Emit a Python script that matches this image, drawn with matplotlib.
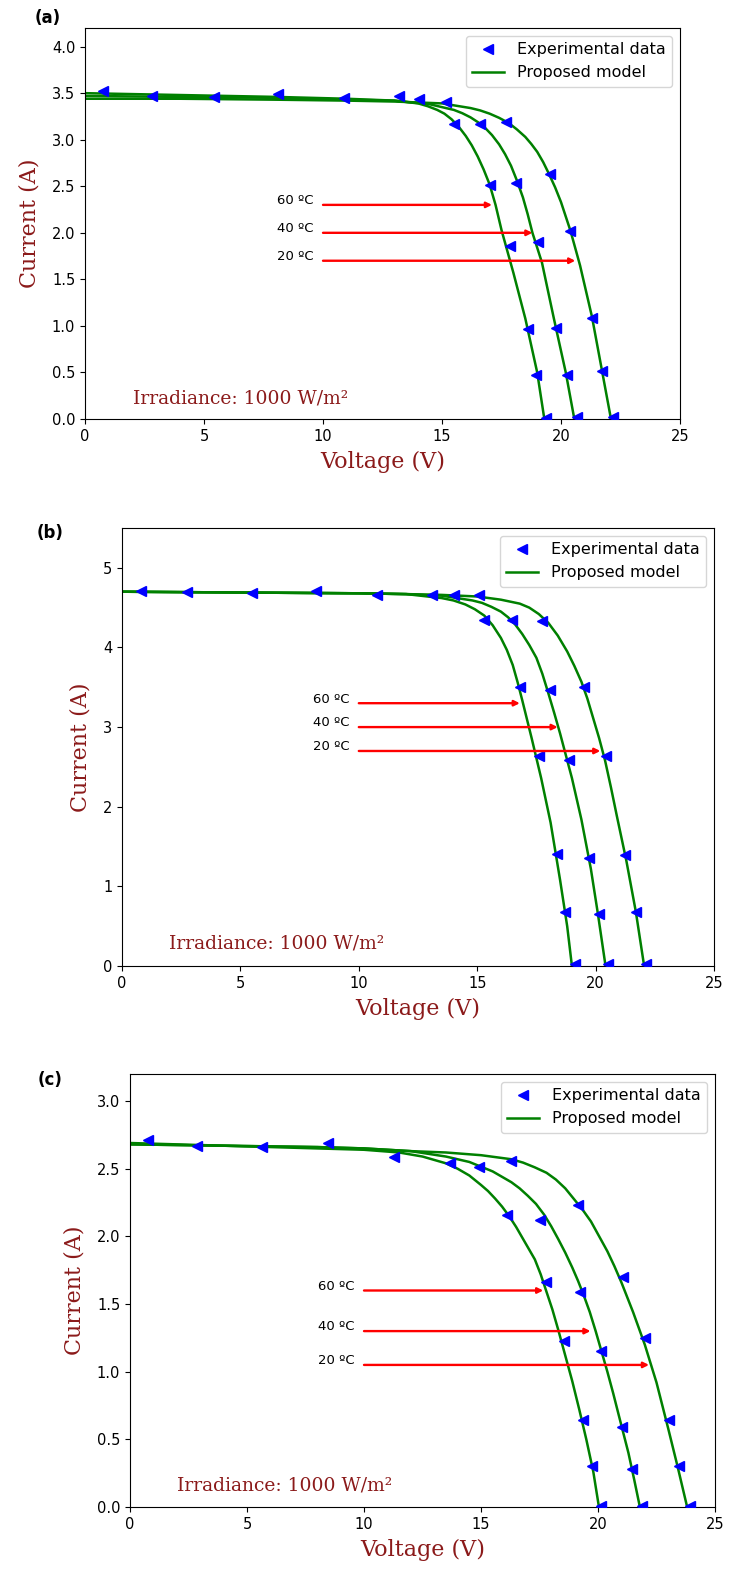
import matplotlib
matplotlib.use('Agg')
import matplotlib.pyplot as plt

plt.rcParams['font.family'] = ['DejaVu Sans']

# ---------------- panel (a) ----------------
a_v60 = [0, 4, 8, 11, 13, 14, 14.4, 14.8, 15.1, 15.4, 15.7, 16.0, 16.25, 16.5, 16.75, 17.0,
         17.25, 17.5, 18.0, 18.5, 19.0, 19.3]
a_i60 = [3.50, 3.48, 3.46, 3.44, 3.42, 3.39, 3.36, 3.32, 3.28, 3.22, 3.14, 3.04, 2.94, 2.82, 2.68, 2.52,
         2.30, 2.03, 1.57, 1.08, 0.50, 0.0]
a_v40 = [0, 4, 8, 11, 13, 14.5, 15.0, 15.5, 15.85, 16.2, 16.5, 16.8, 17.1, 17.4, 17.65, 17.9,
         18.15, 18.4, 18.6, 18.8, 19.2, 19.7, 20.2, 20.56]
a_i40 = [3.47, 3.46, 3.45, 3.43, 3.42, 3.38, 3.35, 3.32, 3.285, 3.24, 3.19, 3.13, 3.05, 2.95, 2.845, 2.72,
         2.56, 2.38, 2.20, 2.0, 1.68, 1.08, 0.50, 0.0]
a_v20 = [0, 4, 8, 11, 13, 15, 16.2, 16.6, 17.0, 17.4, 17.8, 18.15, 18.5, 18.75, 19.0, 19.25,
         19.5, 19.75, 20.0, 20.4, 20.8, 21.3, 21.7, 22.1]
a_i20 = [3.44, 3.44, 3.43, 3.42, 3.41, 3.39, 3.34, 3.315, 3.28, 3.235, 3.18, 3.11, 3.03, 2.955, 2.87, 2.76,
         2.63, 2.49, 2.33, 2.02, 1.65, 1.10, 0.55, 0.0]

a_ev60 = [0.76, 2.8, 5.4, 8.1, 10.9, 13.2, 15.5, 17.0, 17.85, 18.6, 18.97, 19.35]
a_ei60 = [3.52, 3.47, 3.46, 3.49, 3.45, 3.47, 3.17, 2.51, 1.86, 0.97, 0.47, 0.01]
a_ev40 = [14.05, 16.58, 18.13, 19.04, 19.81, 20.24, 20.66]
a_ei40 = [3.44, 3.17, 2.53, 1.90, 0.98, 0.47, 0.02]
a_ev20 = [15.18, 17.7, 19.53, 20.38, 21.29, 21.71, 22.2]
a_ei20 = [3.41, 3.19, 2.63, 2.02, 1.09, 0.52, 0.02]

a_arrow_y = [2.3, 2.0, 1.7]
a_arrow_x = [17.1, 18.8, 20.6]

# ---------------- panel (b) ----------------
b_v60 = [0, 5, 10, 12, 13.5, 14.0, 14.5, 14.9, 15.3, 15.65, 16.0, 16.25, 16.5, 16.7, 16.9,
         17.1, 17.3, 17.5, 17.7, 18.1, 18.5, 18.8, 19.0]
b_i60 = [4.70, 4.69, 4.68, 4.67, 4.62, 4.59, 4.54, 4.48, 4.40, 4.28, 4.12, 3.97, 3.78, 3.57, 3.34,
         3.10, 2.86, 2.61, 2.36, 1.80, 1.08, 0.50, 0.0]
b_v40 = [0, 5, 10, 12, 13.5, 14.8, 15.2, 15.6, 16.0, 16.3, 16.6, 16.9, 17.2, 17.5, 17.75, 18.0,
         18.25, 18.5, 18.75, 19.0, 19.4, 19.8, 20.1, 20.42]
b_i40 = [4.70, 4.69, 4.68, 4.67, 4.65, 4.59, 4.56, 4.51, 4.45, 4.38, 4.29, 4.17, 4.03, 3.87, 3.67, 3.43,
         3.18, 2.92, 2.64, 2.36, 1.84, 1.22, 0.65, 0.0]
b_v20 = [0, 5, 10, 12, 13.5, 15.0, 16.0, 16.8, 17.2, 17.6, 18.0, 18.4, 18.8, 19.1, 19.4, 19.65,
         19.9, 20.15, 20.4, 20.65, 20.9, 21.3, 21.7, 22.05]
b_i20 = [4.70, 4.69, 4.68, 4.67, 4.66, 4.64, 4.60, 4.55, 4.50, 4.42, 4.31, 4.15, 3.95, 3.77, 3.57, 3.36,
         3.11, 2.86, 2.58, 2.24, 1.88, 1.32, 0.68, 0.0]

b_ev60 = [0.8, 2.75, 5.47, 8.18, 10.76, 13.08, 15.27, 16.79, 17.6, 18.35, 18.7, 19.12]
b_ei60 = [4.71, 4.70, 4.69, 4.71, 4.66, 4.66, 4.35, 3.50, 2.64, 1.41, 0.68, 0.02]
b_ev40 = [14.0, 16.47, 18.06, 18.87, 19.72, 20.14, 20.54]
b_ei40 = [4.66, 4.35, 3.47, 2.59, 1.35, 0.65, 0.02]
b_ev20 = [15.08, 17.74, 19.5, 20.42, 21.24, 21.7, 22.12]
b_ei20 = [4.66, 4.33, 3.50, 2.64, 1.40, 0.68, 0.02]

b_arrow_y = [3.3, 3.0, 2.7]
b_arrow_x = [16.8, 18.4, 20.2]

# ---------------- panel (c) ----------------
c_v60 = [0, 4, 8, 10, 11.5, 12.5, 13.5, 14.0, 14.5, 15.0, 15.3, 15.6, 15.9, 16.2, 16.5, 16.8,
         17.05, 17.3, 17.55, 17.8, 18.05, 18.3, 18.6, 18.9, 19.2, 19.5, 19.8, 20.04]
c_i60 = [2.69, 2.67, 2.65, 2.64, 2.62, 2.59, 2.54, 2.50, 2.45, 2.38, 2.335, 2.28, 2.22, 2.15, 2.07, 1.98,
         1.905, 1.83, 1.72, 1.59, 1.46, 1.31, 1.12, 0.93, 0.72, 0.50, 0.26, 0.0]
c_v40 = [0, 4, 8, 10, 12, 13.5, 14.5, 15.5, 16.0, 16.3, 16.65, 17.0, 17.35, 17.7, 18.0, 18.3,
         18.6, 18.9, 19.15, 19.4, 19.65, 19.9, 20.15, 20.4, 20.65, 20.9, 21.1, 21.3, 21.55, 21.79]
c_i40 = [2.68, 2.67, 2.66, 2.65, 2.63, 2.59, 2.55, 2.48, 2.43, 2.40, 2.355, 2.30, 2.24, 2.16, 2.075, 1.98,
         1.88, 1.77, 1.67, 1.56, 1.44, 1.30, 1.15, 1.00, 0.84, 0.67, 0.535, 0.40, 0.20, 0.0]
c_v20 = [0, 4, 8, 10, 12, 13.5, 15.0, 16.3, 16.8, 17.3, 17.8, 18.2, 18.6, 19.0, 19.35, 19.7,
         20.05, 20.4, 20.7, 21.0, 21.5, 22.0, 22.5, 23.0, 23.4, 23.81]
c_i20 = [2.68, 2.67, 2.66, 2.65, 2.63, 2.62, 2.60, 2.57, 2.545, 2.51, 2.47, 2.42, 2.355, 2.27, 2.195, 2.11,
         2.00, 1.89, 1.78, 1.66, 1.44, 1.20, 0.92, 0.58, 0.30, 0.0]

c_ev60 = [0.79, 2.88, 5.65, 8.47, 11.27, 13.69, 16.13, 17.76, 18.55, 19.35, 19.74, 20.14]
c_ei60 = [2.71, 2.67, 2.66, 2.69, 2.59, 2.54, 2.16, 1.66, 1.23, 0.64, 0.30, 0.01]
c_ev40 = [14.92, 17.52, 19.25, 20.14, 21.03, 21.47, 21.87]
c_ei40 = [2.51, 2.12, 1.59, 1.15, 0.59, 0.28, 0.01]
c_ev20 = [16.27, 19.15, 21.07, 22.02, 23.02, 23.45, 23.95]
c_ei20 = [2.56, 2.23, 1.70, 1.25, 0.64, 0.30, 0.01]

c_arrow_y = [1.6, 1.3, 1.05]
c_arrow_x = [17.66, 19.68, 22.18]

temp_labels = ['60 ºC', '40 ºC', '20 ºC']
red_text = '#8b1a1a'

W, H = 736, 1573
fig = plt.figure(figsize=(W / 100, H / 100), dpi=100)


def add_axes_px(left, right, top, bottom):
    return fig.add_axes([left / W, 1 - bottom / H, (right - left) / W, (bottom - top) / H])


def draw_panel(ax, curves, exps, arrow_x, arrow_y, ylim, yticks, yfmt):
    first = True
    for v, i in curves:
        ax.plot(v, i, color='green', lw=1.8, label='Proposed model' if first else None, zorder=2)
        first = False
    first = True
    for v, i in exps:
        ax.plot(v, i, linestyle='None', marker='<', color='blue', markersize=7,
                label='Experimental data' if first else None, zorder=3)
        first = False

    for lab, xe, ye in zip(temp_labels, arrow_x, arrow_y):
        ax.annotate('', xy=(xe, ye), xytext=(10, ye),
                    arrowprops=dict(arrowstyle='-|>', color='red', lw=1.7, mutation_scale=8,
                                    shrinkA=0, shrinkB=0))
        ax.annotate(lab, xy=(9.6, ye), xytext=(0, 3), textcoords='offset points',
                    ha='right', va='center', fontsize=9.5)

    ax.text(2.0, 0.03 * ylim, 'Irradiance: 1000 W/m²', family='DejaVu Serif',
            color=red_text, fontsize=13.5, va='bottom')
    ax.set_xlim(0, 25)
    ax.set_ylim(0, ylim)
    ax.set_xticks([0, 5, 10, 15, 20, 25])
    ax.set_yticks(yticks)
    ax.set_yticklabels([yfmt.format(t) for t in yticks])
    ax.tick_params(labelsize=10.5)
    ax.set_xlabel('Voltage (V)', family='DejaVu Serif', color=red_text, fontsize=16, labelpad=5)
    ax.set_ylabel('Current (A)', family='DejaVu Serif', color=red_text, fontsize=16, labelpad=8)
    h, l = ax.get_legend_handles_labels()
    order = [l.index('Experimental data'), l.index('Proposed model')]
    ax.legend([h[k] for k in order], [l[k] for k in order], loc='upper right', fontsize=11.5)


ax1 = add_axes_px(85, 680, 28, 419)
draw_panel(ax1, [(a_v60, a_i60), (a_v40, a_i40), (a_v20, a_i20)],
           [(a_ev60, a_ei60), (a_ev40, a_ei40), (a_ev20, a_ei20)],
           a_arrow_x, a_arrow_y, 4.2, [0, 0.5, 1.0, 1.5, 2.0, 2.5, 3.0, 3.5, 4.0], '{:.1f}')

ax2 = add_axes_px(122, 714, 528, 966)
draw_panel(ax2, [(b_v60, b_i60), (b_v40, b_i40), (b_v20, b_i20)],
           [(b_ev60, b_ei60), (b_ev40, b_ei40), (b_ev20, b_ei20)],
           b_arrow_x, b_arrow_y, 5.5, [0, 1, 2, 3, 4, 5], '{:d}')

ax3 = add_axes_px(130, 715, 1074, 1507)
draw_panel(ax3, [(c_v60, c_i60), (c_v40, c_i40), (c_v20, c_i20)],
           [(c_ev60, c_ei60), (c_ev40, c_ei40), (c_ev20, c_ei20)],
           c_arrow_x, c_arrow_y, 3.2, [0, 0.5, 1.0, 1.5, 2.0, 2.5, 3.0], '{:.1f}')

fig.text(35 / W, 1 - 18 / H, '(a)', fontsize=12, fontweight='bold', va='center')
fig.text(37 / W, 1 - 533 / H, '(b)', fontsize=12, fontweight='bold', va='center')
fig.text(38 / W, 1 - 1080 / H, '(c)', fontsize=12, fontweight='bold', va='center')

fig.savefig('out.png', dpi=100)
